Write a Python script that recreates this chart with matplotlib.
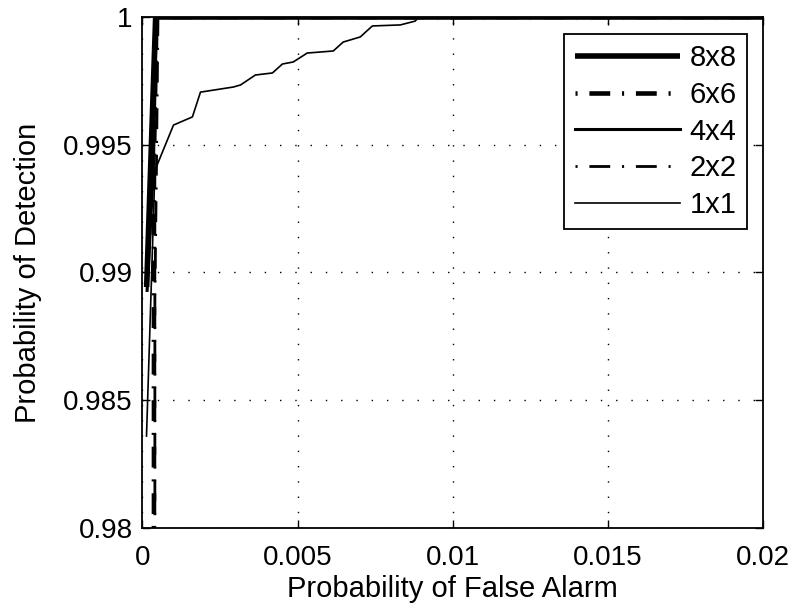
import matplotlib
matplotlib.use("Agg")
import matplotlib.pyplot as plt

plt.rcParams['font.family'] = ['Liberation Sans', 'DejaVu Sans']
plt.rcParams['lines.scale_dashes'] = False

# Data
pfa_8x8 = [0.000135, 0.000425, 0.02]
pd_8x8 = [0.98943, 1.0, 1.0]

pfa_6x6 = [0.00037, 0.00037, 0.00045, 0.02]
pd_6x6 = [0.9800, 0.9945, 1.0, 1.0]

pfa_4x4 = [0.00015, 0.00035, 0.00045, 0.02]
pd_4x4 = [0.98930, 0.99400, 1.0, 1.0]

pfa_2x2 = [0.00040, 0.00040, 0.00045, 0.00050, 0.02]
pd_2x2 = [0.9805, 0.9890, 0.9940, 1.0, 1.0]

pfa_1x1 = [0.00013, 0.00040, 0.00047, 0.00100, 0.00161, 0.00187, 0.00293, 0.00316,
           0.00364, 0.00419, 0.00451, 0.00486, 0.00531, 0.00615, 0.00647, 0.00702,
           0.00741, 0.00831, 0.00879, 0.00890, 0.02]
pd_1x1 = [0.98360, 0.99393, 0.99420, 0.99577, 0.99609, 0.99706, 0.99726, 0.99734,
          0.99773, 0.99781, 0.99816, 0.99824, 0.99859, 0.99867, 0.99902, 0.99922,
          0.99965, 0.99969, 0.99984, 1.0, 1.0]

series_labels = ['8x8', '6x6', '4x4', '2x2', '1x1']
x_ticks = [0, 0.005, 0.01, 0.015, 0.02]
x_tick_labels = ['0', '0.005', '0.01', '0.015', '0.02']
y_ticks = [0.98, 0.985, 0.99, 0.995, 1.0]
y_tick_labels = ['0.98', '0.985', '0.99', '0.995', '1']

fig = plt.figure(figsize=(7.95, 6.12), dpi=100)
ax = fig.add_axes([0.1792, 0.1373, 0.9597 - 0.1792, 0.9722 - 0.1373])

dashdot = (0, (1.5, 8.5, 15.0, 8.5))
ax.plot(pfa_8x8, pd_8x8, color='black', lw=4.0, solid_capstyle='butt', label=series_labels[0])
ax.plot(pfa_6x6, pd_6x6, color='black', lw=3.3, linestyle=dashdot, dash_capstyle='butt', label=series_labels[1])
ax.plot(pfa_4x4, pd_4x4, color='black', lw=2.2, label=series_labels[2])
ax.plot(pfa_2x2, pd_2x2, color='black', lw=2.0, linestyle=dashdot, dash_capstyle='butt', label=series_labels[3])
ax.plot(pfa_1x1, pd_1x1, color='black', lw=1.2, label=series_labels[4])

ax.set_xlim(0, 0.02)
ax.set_ylim(0.98, 1.0)
ax.set_xticks(x_ticks)
ax.set_xticklabels(x_tick_labels)
ax.set_yticks(y_ticks)
ax.set_yticklabels(y_tick_labels)

ax.grid(True, color='black', linestyle=(0, (1.0, 10.0)), linewidth=1.0)
ax.tick_params(direction='in', length=6, width=1, top=True, right=True, labelsize=20)
ax.tick_params(axis='x', pad=12)
ax.tick_params(axis='y', pad=7)
for s in ax.spines.values():
    s.set_linewidth(1.3)

ax.set_xlabel('Probability of False Alarm', fontsize=21, labelpad=3)
ax.set_ylabel('Probability of Detection', fontsize=21, labelpad=15)

leg = ax.legend(loc='upper right', fontsize=21, handlelength=3.6, frameon=True, fancybox=False,
                edgecolor='black', framealpha=1, borderpad=0.35, labelspacing=0.3,
                borderaxespad=0, bbox_to_anchor=(0.974, 0.967), handletextpad=0.34)
leg.get_frame().set_linewidth(1.3)

fig.savefig('out.png', dpi=100)
